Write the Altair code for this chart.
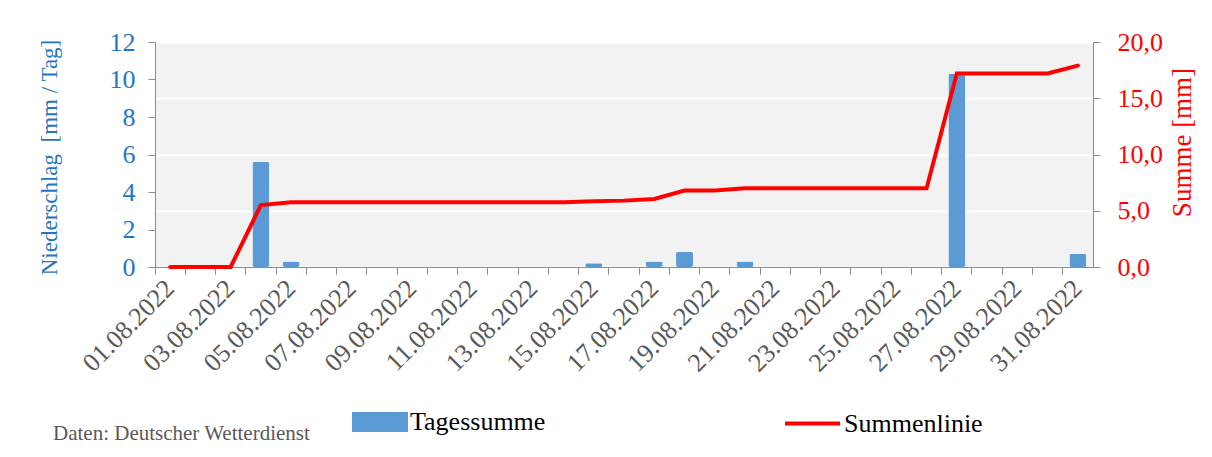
import altair as alt
import pandas as pd

dates = ["01.08.2022", "02.08.2022", "03.08.2022", "04.08.2022", "05.08.2022",
         "06.08.2022", "07.08.2022", "08.08.2022", "09.08.2022", "10.08.2022",
         "11.08.2022", "12.08.2022", "13.08.2022", "14.08.2022", "15.08.2022",
         "16.08.2022", "17.08.2022", "18.08.2022", "19.08.2022", "20.08.2022",
         "21.08.2022", "22.08.2022", "23.08.2022", "24.08.2022", "25.08.2022",
         "26.08.2022", "27.08.2022", "28.08.2022", "29.08.2022", "30.08.2022",
         "31.08.2022"]
tagessumme = [0, 0, 0, 5.6, 0.3, 0, 0, 0, 0, 0, 0, 0, 0, 0, 0.2,
              0, 0.3, 0.8, 0, 0.3, 0, 0, 0, 0, 0, 0, 10.3, 0, 0, 0, 0.7]
summenlinie = [0, 0, 0, 5.5, 5.75, 5.75, 5.75, 5.75, 5.75, 5.75, 5.75, 5.75, 5.75, 5.75,
               5.85, 5.9, 6.05, 6.8, 6.8, 7.0, 7.0, 7.0, 7.0, 7.0, 7.0, 7.0,
               17.2, 17.2, 17.2, 17.2, 17.9]
left_ticks = [0, 2, 4, 6, 8, 10, 12]
right_ticks = [0, 5, 10, 15, 20]
caption = "Daten: Deutscher Wetterdienst"

FONT = "Liberation Serif"
BLUE = "#5b9bd5"
BLUE_TXT = "#1f77c4"
RED = "#ff0000"
GRAY = "#8c8c8c"

df = pd.DataFrame({
    "Datum": dates,
    "Tagessumme": tagessumme,
    "Summenlinie": summenlinie,
    "s1": ["Tagessumme"] * len(dates),
    "s2": ["Summenlinie"] * len(dates),
})

x_enc = alt.X(
    "Datum:O",
    sort=dates,
    scale=alt.Scale(domain=dates, paddingInner=0, paddingOuter=0),
    axis=alt.Axis(
        title=None,
        bandPosition=0,
        labelAngle=-45,
        labelAlign="right",
        labelBaseline="middle",
        labelExpr="parseInt(substring(datum.value,0,2)) % 2 == 1 ? datum.value : ''",
        labelOverlap=False,
        labelFlush=False,
        labelFont=FONT,
        labelFontSize=26,
        labelColor="#595959",
        labelPadding=10,
        tickSize=7,
        tickColor=GRAY,
        domainColor=GRAY,
        grid=False,
    ),
)

bars = alt.Chart(df).mark_bar(width=alt.RelativeBandSize(0.56), cornerRadius=2).encode(
    x=x_enc,
    y=alt.Y(
        "Tagessumme:Q",
        scale=alt.Scale(domain=[0, 12]),
        axis=alt.Axis(
            orient="left",
            title="Niederschlag\u00a0 [mm / Tag]",
            values=left_ticks,
            grid=False,
            labelFont=FONT,
            labelFontSize=26,
            labelColor=BLUE_TXT,
            labelPadding=13,
            tickSize=7,
            tickColor=GRAY,
            domainColor=GRAY,
            titleFont=FONT,
            titleFontSize=23,
            titleFontWeight="normal",
            titleColor=BLUE_TXT,
            titleAngle=270,
            titleAlign="center",
            titleBaseline="alphabetic",
            titleX=-99,
            titleY=115,
        ),
    ),
    fill=alt.Fill(
        "s1:N",
        scale=alt.Scale(domain=["Tagessumme"], range=[BLUE]),
        legend=alt.Legend(
            title=None,
            orient="none",
            legendX=197,
            legendY=352,
            symbolType="M-1,-0.357H1V0.357H-1Z",
            symbolSize=3136,
            symbolStrokeWidth=0,
            labelFont=FONT,
            labelFontSize=26,
            labelColor="black",
            labelOffset=2,
            padding=0,
        ),
    ),
)

line = alt.Chart(df).mark_line(strokeWidth=4, strokeCap="round").encode(
    x=x_enc,
    y=alt.Y(
        "Summenlinie:Q",
        scale=alt.Scale(domain=[0, 20]),
        axis=alt.Axis(
            orient="right",
            title="Summe [mm]",
            values=right_ticks,
            grid=True,
            gridColor="white",
            gridWidth=2,
            labelExpr="replace(format(datum.value, '.1f'), '.', ',')",
            labelFont=FONT,
            labelFontSize=26,
            labelColor=RED,
            labelPadding=17,
            tickSize=7,
            tickColor=GRAY,
            domainColor=GRAY,
            titleFont=FONT,
            titleFontSize=27,
            titleFontWeight="normal",
            titleColor=RED,
            titleAngle=270,
            titleAlign="center",
            titleBaseline="alphabetic",
            titleX=97,
            titleY=100,
        ),
    ),
    stroke=alt.Stroke(
        "s2:N",
        scale=alt.Scale(domain=["Summenlinie"], range=[RED]),
        legend=alt.Legend(
            title=None,
            orient="none",
            legendX=628,
            legendY=352,
            symbolType="M-1,0H1",
            symbolSize=3025,
            symbolStrokeWidth=4,
            labelFont=FONT,
            labelFontSize=26,
            labelColor="black",
            labelOffset=2,
            padding=0,
        ),
    ),
)

cap = alt.Chart(pd.DataFrame({"t": [caption]})).mark_text(
    font=FONT, fontSize=21, color="#595959", align="left", baseline="alphabetic"
).encode(
    x=alt.value(-102),
    y=alt.value(398),
    text="t:N",
)

chart = (
    alt.layer(bars, line, cap)
    .resolve_scale(y="independent", fill="independent", stroke="independent")
    .properties(
        width=938,
        height=225,
        autosize=alt.AutoSizeParams(type="none"),
        padding={"left": 147, "top": 34, "right": 108, "bottom": 178},
    )
    .configure(font=FONT)
    .configure_axis(labelFont=FONT, titleFont=FONT)
    .configure_legend(labelFont=FONT)
    .configure_view(stroke=None, fill="#f2f2f2")
)

chart.save("out.html", embed_options={"renderer": "svg", "actions": False})
